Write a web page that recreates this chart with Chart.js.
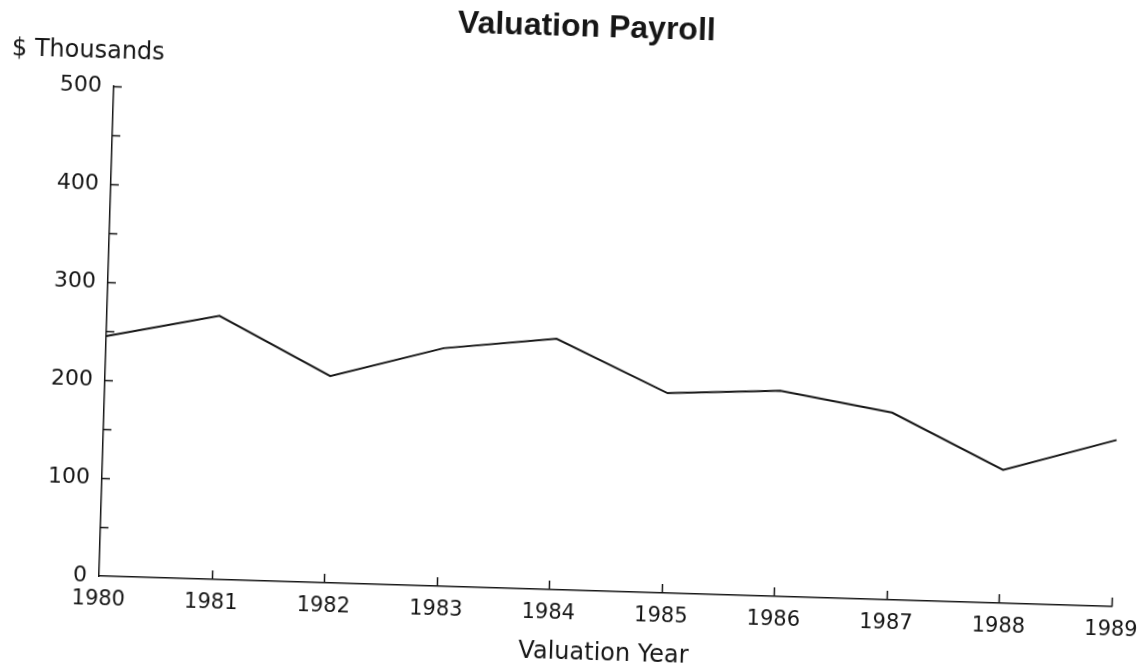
<!DOCTYPE html>
<html><head><meta charset="utf-8">
<script src="https://cdn.jsdelivr.net/npm/chart.js@4.4.1/dist/chart.umd.min.js"></script>
<style>
html,body{margin:0;padding:0;background:#fff;overflow:hidden;width:1146px;height:666px;}
#wrap{position:absolute;left:-30px;top:-20px;width:1200px;height:720px;transform:rotate(1.73deg);transform-origin:129px 596px;}
canvas{display:block;}
</style></head><body>
<div id="wrap"><canvas id="c" width="1200" height="720"></canvas></div>
<script>
const years = ['1980','1981','1982','1983','1984','1985','1986','1987','1988','1989'];
const payroll = [245, 269, 211, 243, 256, 204, 210, 191, 136, 170];
const yTickValues = [0, 50, 100, 150, 200, 250, 300, 350, 400, 450, 500];
const yLabelValues = [0, 100, 200, 300, 400, 500];
const chartTitle = 'Valuation Payroll';
const yUnitLabel = '$ Thousands';
const xAxisTitle = 'Valuation Year';

const INK = '#161616';
const FONT = '"DejaVu Sans", "Liberation Sans", sans-serif';

const tickMarks = {
  id: 'tickMarks',
  afterDraw(chart) {
    const {ctx, chartArea, scales} = chart;
    const x = scales.x, y = scales.y;
    ctx.save();
    ctx.strokeStyle = INK;
    ctx.lineWidth = 1.5;
    ctx.beginPath();
    y.ticks.forEach(t => {
      if (t.value === 0) return;
      const py = Math.round(y.getPixelForValue(t.value)) + 0.5;
      ctx.moveTo(chartArea.left, py);
      ctx.lineTo(chartArea.left + 8, py);
    });
    x.ticks.forEach((t, i) => {
      if (i === 0) return;
      const px = Math.round(x.getPixelForTick(i)) + 0.5;
      ctx.moveTo(px, chartArea.bottom);
      ctx.lineTo(px, chartArea.bottom - 9);
    });
    ctx.stroke();
    ctx.fillStyle = INK;
    ctx.font = 'normal 24px ' + FONT;
    ctx.textAlign = 'left';
    ctx.textBaseline = 'middle';
    ctx.fillText(yUnitLabel, chartArea.left - 103, chartArea.top - 34.5);
    ctx.restore();
  }
};

new Chart(document.getElementById('c'), {
  type: 'line',
  data: {
    labels: years,
    datasets: [{
      data: payroll,
      borderColor: INK,
      borderWidth: 2,
      pointRadius: 0,
      tension: 0,
      fill: false
    }]
  },
  options: {
    responsive: false,
    animation: false,
    devicePixelRatio: 1,
    layout: { padding: { left: 58, right: 58, top: 0, bottom: 47 } },
    plugins: {
      legend: { display: false },
      tooltip: { enabled: false },
      title: {
        display: true,
        text: chartTitle,
        color: INK,
        font: { family: '"Liberation Sans", Arial, sans-serif', size: 32, weight: 'bold', lineHeight: 1.2 },
        padding: { top: 13.8, bottom: 53.8 }
      }
    },
    scales: {
      x: {
        type: 'category',
        offset: false,
        grid: { display: true, drawOnChartArea: false, drawTicks: false, color: 'rgba(0,0,0,0)' },
        border: { display: true, color: INK, width: 1.5 },
        ticks: { color: INK, font: { family: FONT, size: 21 }, padding: 11, autoSkip: false, maxRotation: 0 },
        title: { display: true, text: xAxisTitle, color: INK, font: { family: FONT, size: 24, lineHeight: 1.2 }, padding: { top: 0, bottom: 0 } },
        afterFit(s) { s.height = 77; }
      },
      y: {
        min: 0,
        max: 500,
        grid: { display: true, drawOnChartArea: false, drawTicks: false, color: 'rgba(0,0,0,0)' },
        border: { display: true, color: INK, width: 1.5 },
        afterBuildTicks(s) { s.ticks = yTickValues.map(v => ({ value: v })); },
        ticks: {
          color: INK,
          font: { family: FONT, size: 22 },
          padding: 12,
          callback: v => yLabelValues.includes(v) ? String(v) : ''
        },
        afterFit(s) { s.width = 71; }
      }
    }
  },
  plugins: [tickMarks]
});
</script>
</body></html>
